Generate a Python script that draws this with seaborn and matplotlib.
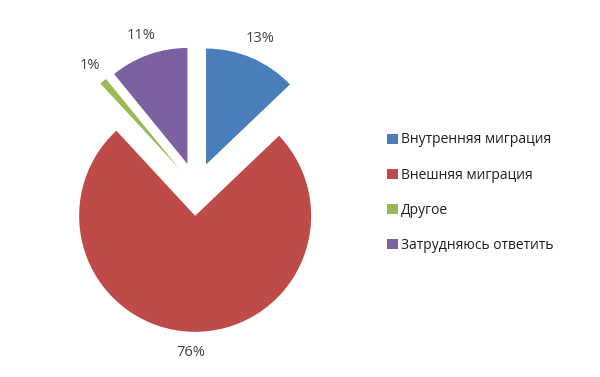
import matplotlib
matplotlib.use("Agg")
import matplotlib.pyplot as plt
import seaborn as sns

categories = ["Внутренняя миграция", "Внешняя миграция", "Другое", "Затрудняюсь ответить"]
values = [13, 76, 1, 11]
pct_labels = ["13%", "76%", "1%", "11%"]
colors = ["#4A7EBB", "#BE4B48", "#98B954", "#7D60A0"]

sns.set_theme(style="white")
plt.rcParams['font.family'] = ['Open Sans', 'DejaVu Sans']

fig = plt.figure(figsize=(6.0, 3.77), dpi=100)
ax = fig.add_axes([0, 0, 1, 1])

wedges, texts = ax.pie(
    values, colors=colors, startangle=90, counterclock=False,
    explode=[0.22, 0.24, 0.22, 0.22],
    labels=pct_labels, labeldistance=1.18,
    wedgeprops=dict(linewidth=0),
    textprops=dict(color="#404040", fontsize=10.5),
)
for t in texts:
    t.set_horizontalalignment('center')
    t.set_verticalalignment('center')

R = 116.0
cx, cy = 196.0, 377 - 188.0
ax.set_xlim(-cx / R, (600 - cx) / R)
ax.set_ylim(-cy / R, (377 - cy) / R)
ax.set_aspect('auto')
ax.axis('off')

fig.legend(wedges, categories, loc='center left', bbox_to_anchor=(0.634, 0.489),
           frameon=False, fontsize=10, labelspacing=1.45,
           handlelength=0.75, handleheight=0.75, handletextpad=0.2,
           borderpad=0, labelcolor="#202020")

fig.savefig("out.png", dpi=100)
